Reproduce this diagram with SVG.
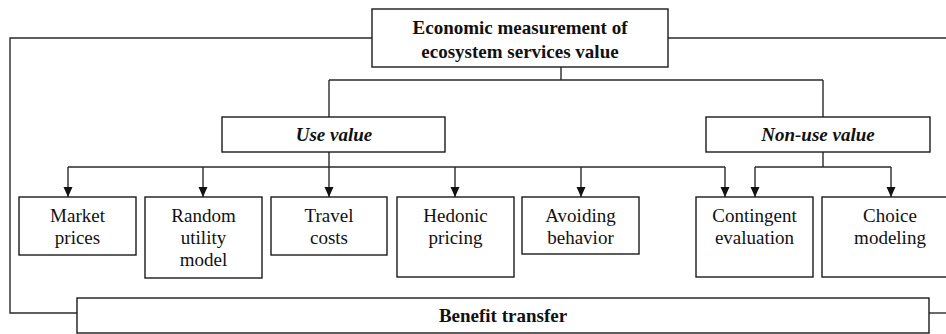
<svg xmlns="http://www.w3.org/2000/svg" width="946" height="334" viewBox="0 0 946 334" font-family="Liberation Serif">
<defs>
<marker id="ah" viewBox="0 0 10 10" refX="10" refY="5" markerWidth="10" markerHeight="10" markerUnits="userSpaceOnUse" orient="auto">
<path d="M0,0.5 L10,5 L0,9.5 z" fill="#111"/>
</marker>
</defs>
<g id="connectors" fill="none" stroke="#2a2a2a" stroke-width="1.4">
<path d="M372,38 H10 V313 H77"/>
<path d="M668,38 H946"/>
<path d="M929,313 H946"/>
<path d="M561,67 V80 M329,80 H823 M329,80 V117 M823,80 V117"/>
<path d="M329,152 V167 M68,167 H725"/>
<path d="M823,152 V167 M755,167 H891"/>
<path marker-end="url(#ah)" d="M68,167 V197"/>
<path marker-end="url(#ah)" d="M203,167 V197"/>
<path marker-end="url(#ah)" d="M329,167 V197"/>
<path marker-end="url(#ah)" d="M455,167 V197"/>
<path marker-end="url(#ah)" d="M581,167 V197"/>
<path marker-end="url(#ah)" d="M725,167 V197"/>
<path marker-end="url(#ah)" d="M755,167 V197"/>
<path marker-end="url(#ah)" d="M891,167 V197"/>
</g>
<g id="nodes" font-size="19">
<g id="root">
<rect x="372" y="9" width="296" height="58" fill="#fff" stroke="#1a1a1a" stroke-width="1.4"/>
<text x="520" y="34" text-anchor="middle" font-weight="bold" fill="#111" style="font-family:'Liberation Serif'">Economic measurement of</text>
<text x="520" y="58" text-anchor="middle" font-weight="bold" fill="#111" style="font-family:'Liberation Serif'">ecosystem services value</text>
</g>
<g id="use-value">
<rect x="222" y="117" width="223" height="35" fill="#fff" stroke="#1a1a1a" stroke-width="1.4"/>
<text x="334" y="141" text-anchor="middle" font-weight="bold" font-style="italic" fill="#111" style="font-family:'Liberation Serif'">Use value</text>
</g>
<g id="non-use-value">
<rect x="706" y="117" width="224" height="35" fill="#fff" stroke="#1a1a1a" stroke-width="1.4"/>
<text x="818" y="141" text-anchor="middle" font-weight="bold" font-style="italic" fill="#111" style="font-family:'Liberation Serif'">Non-use value</text>
</g>
<g id="market-prices">
<rect x="19" y="197" width="117" height="58" fill="#fff" stroke="#1a1a1a" stroke-width="1.4"/>
<text x="77.5" y="222" text-anchor="middle" fill="#111" style="font-family:'Liberation Serif'">Market</text>
<text x="77.5" y="244" text-anchor="middle" fill="#111" style="font-family:'Liberation Serif'">prices</text>
</g>
<g id="random-utility-model">
<rect x="145" y="197" width="117" height="81" fill="#fff" stroke="#1a1a1a" stroke-width="1.4"/>
<text x="203.5" y="222" text-anchor="middle" fill="#111" style="font-family:'Liberation Serif'">Random</text>
<text x="203.5" y="244" text-anchor="middle" fill="#111" style="font-family:'Liberation Serif'">utility</text>
<text x="203.5" y="266" text-anchor="middle" fill="#111" style="font-family:'Liberation Serif'">model</text>
</g>
<g id="travel-costs">
<rect x="271" y="197" width="116" height="58" fill="#fff" stroke="#1a1a1a" stroke-width="1.4"/>
<text x="329" y="222" text-anchor="middle" fill="#111" style="font-family:'Liberation Serif'">Travel</text>
<text x="329" y="244" text-anchor="middle" fill="#111" style="font-family:'Liberation Serif'">costs</text>
</g>
<g id="hedonic-pricing">
<rect x="397" y="197" width="117" height="80" fill="#fff" stroke="#1a1a1a" stroke-width="1.4"/>
<text x="455.5" y="222" text-anchor="middle" fill="#111" style="font-family:'Liberation Serif'">Hedonic</text>
<text x="455.5" y="244" text-anchor="middle" fill="#111" style="font-family:'Liberation Serif'">pricing</text>
</g>
<g id="avoiding-behavior">
<rect x="522" y="197" width="117" height="57" fill="#fff" stroke="#1a1a1a" stroke-width="1.4"/>
<text x="580.5" y="222" text-anchor="middle" fill="#111" style="font-family:'Liberation Serif'">Avoiding</text>
<text x="580.5" y="244" text-anchor="middle" fill="#111" style="font-family:'Liberation Serif'">behavior</text>
</g>
<g id="contingent-evaluation">
<rect x="696" y="197" width="117" height="80" fill="#fff" stroke="#1a1a1a" stroke-width="1.4"/>
<text x="754.5" y="222" text-anchor="middle" fill="#111" style="font-family:'Liberation Serif'">Contingent</text>
<text x="754.5" y="244" text-anchor="middle" fill="#111" style="font-family:'Liberation Serif'">evaluation</text>
</g>
<g id="choice-modeling">
<rect x="822" y="197" width="130" height="80" fill="#fff" stroke="#1a1a1a" stroke-width="1.4"/>
<text x="890" y="222" text-anchor="middle" fill="#111" style="font-family:'Liberation Serif'">Choice</text>
<text x="890" y="244" text-anchor="middle" fill="#111" style="font-family:'Liberation Serif'">modeling</text>
</g>
<g id="benefit-transfer">
<rect x="77" y="298" width="852" height="35" fill="#fff" stroke="#1a1a1a" stroke-width="1.4"/>
<text x="503" y="322" text-anchor="middle" font-weight="bold" fill="#111" style="font-family:'Liberation Serif'">Benefit transfer</text>
</g>
</g>
</svg>
